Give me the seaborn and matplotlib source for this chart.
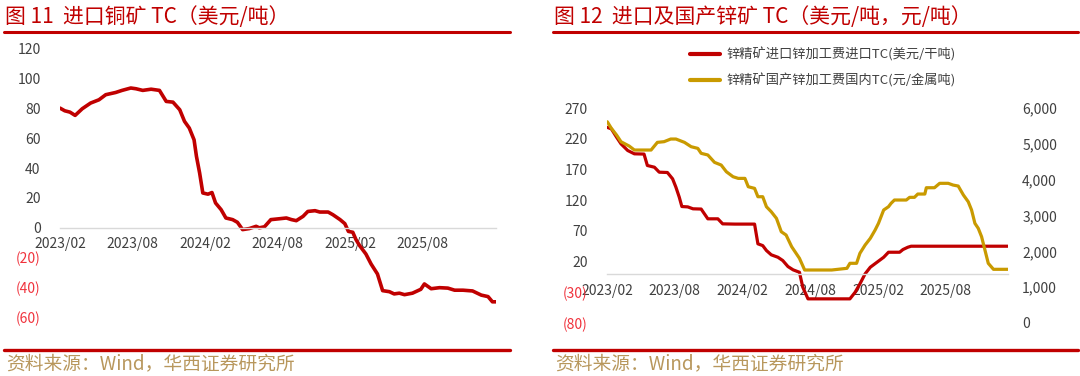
import matplotlib
matplotlib.use("Agg")
import matplotlib.pyplot as plt
import matplotlib.dates as mdates
from matplotlib.lines import Line2D
import pandas as pd
import seaborn as sns

# ---------------- data ----------------
cu_dates = ["2023-02-01","2023-02-13","2023-02-26","2023-03-11","2023-03-29","2023-04-19","2023-05-10","2023-05-27",
            "2023-06-21","2023-07-07","2023-07-29","2023-08-11","2023-08-28","2023-09-18","2023-10-09","2023-10-26",
            "2023-11-12","2023-11-29","2023-12-11","2023-12-23","2024-01-04","2024-01-10","2024-01-18","2024-01-26",
            "2024-02-08","2024-02-18","2024-02-27","2024-03-12","2024-03-24","2024-04-10","2024-04-22","2024-05-05",
            "2024-05-22","2024-06-08","2024-06-16","2024-06-29","2024-07-15","2024-08-06","2024-08-23","2024-09-05",
            "2024-09-17","2024-10-04","2024-10-16","2024-11-03","2024-11-15","2024-12-06","2024-12-18","2025-01-05",
            "2025-01-17","2025-01-26","2025-02-06","2025-02-14","2025-02-23","2025-03-11","2025-03-24","2025-04-09",
            "2025-04-22","2025-05-09","2025-05-21","2025-06-03","2025-06-16","2025-07-06","2025-07-27","2025-08-05",
            "2025-08-22","2025-09-12","2025-10-03","2025-10-20","2025-11-10","2025-12-04","2025-12-26","2026-01-12",
            "2026-01-23","2026-02-01"]
cu_tc = [80.3,78.5,77.6,75.4,79.9,83.7,85.9,89.3,
         90.8,92.2,93.8,93.3,92.2,93.0,92.2,84.8,
         84.3,79.2,71.4,66.9,59.0,47.9,36.7,23.3,
         22.5,23.6,16.6,12.1,6.5,5.4,3.6,-1.3,
         -0.6,0.9,-0.1,0.6,5.4,6.0,6.5,5.4,
         4.7,7.6,10.9,11.4,10.5,10.5,8.7,5.4,
         2.7,-2.5,-3.1,-8.0,-12.0,-17.7,-24.4,-31.1,
         -42.3,-43.0,-44.5,-44.0,-45.0,-44.0,-41.4,-37.8,
         -41.0,-40.3,-40.6,-42.0,-42.0,-42.5,-45.3,-46.3,
         -49.8,-49.8]

zn_imp_dates = ["2023-02-01","2023-02-12","2023-02-26","2023-03-10","2023-03-28","2023-04-15","2023-05-11","2023-05-20",
                "2023-06-08","2023-06-21","2023-07-13","2023-07-27","2023-08-05","2023-08-14","2023-08-21","2023-09-06",
                "2023-09-20","2023-10-12","2023-10-30","2023-11-26","2023-12-09","2024-01-11","2024-03-04","2024-03-13",
                "2024-03-26","2024-04-05","2024-04-18","2024-05-06","2024-05-19","2024-06-02","2024-06-16","2024-07-03",
                "2024-07-12","2024-07-26","2024-09-18","2024-11-16","2024-11-30","2024-12-13","2024-12-27","2025-01-10",
                "2025-01-28","2025-02-15","2025-02-28","2025-03-30","2025-04-08","2025-04-21","2025-04-30","2026-01-17"]
zn_imp_tc = [238.5,236,222.5,211.6,200.8,195.4,195,176.4,
             173.6,165.5,165,154.7,141,124.8,109.6,109,
             105.9,105.5,89.6,89.6,81.4,81,81,48.9,
             46,38,31,27,21.7,11.9,6.5,2.6,
             -21.8,-40.7,-40.7,-40.7,-30,-16.3,0,10.8,
             18.9,27,35.2,35.2,39.6,43.3,45,45]

zn_dom_dates = ["2023-02-01","2023-02-12","2023-02-26","2023-03-10","2023-04-01","2023-04-15","2023-05-30","2023-06-16",
                "2023-07-04","2023-07-22","2023-08-05","2023-08-28","2023-09-15","2023-10-03","2023-10-12","2023-10-30",
                "2023-11-17","2023-12-05","2023-12-19","2024-01-06","2024-01-20","2024-02-07","2024-02-16","2024-03-04",
                "2024-03-13","2024-03-26","2024-04-05","2024-04-18","2024-05-02","2024-05-15","2024-05-28","2024-06-12",
                "2024-07-03","2024-07-17","2024-09-28","2024-11-08","2024-11-16","2024-12-04","2024-12-13","2024-12-27",
                "2025-01-10","2025-01-23","2025-02-01","2025-02-15","2025-02-28","2025-03-07","2025-03-16","2025-04-17",
                "2025-04-26","2025-05-09","2025-05-18","2025-06-06","2025-06-10","2025-07-02","2025-07-16","2025-08-08",
                "2025-08-21","2025-09-04","2025-09-18","2025-10-01","2025-10-10","2025-10-19","2025-10-28","2025-11-06",
                "2025-11-24","2025-12-08","2026-01-17"]
zn_dom_tc = [5616,5432,5245,5058,4938,4827,4827,5041,
             5060,5134,5134,5041,4920,4873,4735,4689,
             4483,4408,4221,4082,4036,4036,3803,3757,
             3524,3524,3245,3105,2920,2547,2455,2129,
             1805,1479,1479,1526,1666,1666,1945,2176,
             2363,2595,2781,3153,3245,3340,3432,3432,
             3507,3507,3599,3599,3775,3775,3898,3898,
             3850,3822,3571,3384,3153,2781,2642,2408,
             1666,1498,1498]

x_ticks = ["2023-02-01","2023-08-01","2024-02-01","2024-08-01","2025-02-01","2025-08-01"]
cu_yticks = [-60,-40,-20,0,20,40,60,80,100,120]
zn_left_ticks = [-80,-30,20,70,120,170,220,270]
zn_right_ticks = [0,1000,2000,3000,4000,5000,6000]

title_left = "图 11  进口铜矿 TC（美元/吨）"
title_right = "图 12  进口及国产锌矿 TC（美元/吨，元/吨）"
source_text = "资料来源：Wind，华西证券研究所"
legend_labels = ["锌精矿进口锌加工费进口TC(美元/干吨)", "锌精矿国产锌加工费国内TC(元/金属吨)"]

# ---------------- style ----------------
sns.set_theme(style="white")
plt.rcParams["font.family"] = ["Noto Sans CJK SC", "DejaVu Sans"]

RED = "#C00000"
GOLD = "#C99A00"
NEG = "#F0323C"
TXT = "#404040"
AXC = "#D9D9D9"
SRC = "#B8975C"

W, H = 1080, 376
fig = plt.figure(figsize=(W / 100, H / 100), dpi=100)


def rect(x0, y_top, x1, y_bot):
    return [x0 / W, 1 - y_bot / H, (x1 - x0) / W, (y_bot - y_top) / H]


def fmt_num(v, thousands=False):
    if v < 0:
        return f"({abs(int(v))})"
    return f"{int(v):,}" if thousands else f"{int(v)}"


def style_xaxis(ax):
    ax.spines["bottom"].set_position(("data", 0))
    ax.spines["bottom"].set_color(AXC)
    ax.spines["bottom"].set_linewidth(1.0)
    for s in ["top", "left", "right"]:
        ax.spines[s].set_visible(False)
    ax.set_xticks(pd.to_datetime(x_ticks))
    ax.xaxis.set_major_formatter(mdates.DateFormatter("%Y/%m"))
    ax.tick_params(axis="x", which="major", direction="out", length=4, width=1, color=AXC,
                   labelsize=10, labelcolor=TXT, pad=3)
    ax.set_xlabel("")
    ax.set_ylabel("")


# ---------------- left panel: copper ----------------
ax1 = fig.add_axes(rect(60, 49, 496, 317))
cu_df = pd.DataFrame({"date": pd.to_datetime(cu_dates), "tc": cu_tc})
sns.lineplot(data=cu_df, x="date", y="tc", ax=ax1, color=RED, linewidth=2.6)
ax1.set_xlim(pd.Timestamp("2023-02-01"), pd.Timestamp("2026-02-01"))
ax1.set_ylim(-60, 120)
style_xaxis(ax1)
ax1.set_yticks(cu_yticks)
ax1.set_yticklabels([fmt_num(v) for v in cu_yticks])
for lab, v in zip(ax1.get_yticklabels(), cu_yticks):
    lab.set_color(NEG if v < 0 else TXT)
ax1.tick_params(axis="y", length=0, labelsize=10, pad=14)

# ---------------- right panel: zinc ----------------
ax2 = fig.add_axes(rect(607.3, 108, 1008.3, 323))
ax2r = ax2.twinx()
imp_df = pd.DataFrame({"date": pd.to_datetime(zn_imp_dates), "tc": zn_imp_tc})
dom_df = pd.DataFrame({"date": pd.to_datetime(zn_dom_dates), "tc": zn_dom_tc})
sns.lineplot(data=imp_df, x="date", y="tc", ax=ax2, color=RED, linewidth=2.3)
sns.lineplot(data=dom_df, x="date", y="tc", ax=ax2r, color=GOLD, linewidth=2.3)
for a in (ax2, ax2r):
    a.set_xlim(pd.Timestamp("2023-02-01"), pd.Timestamp("2026-01-17"))
ax2.set_ylim(-80, 270)
ax2r.set_ylim(0, 6000)
style_xaxis(ax2)
ax2.set_yticks(zn_left_ticks)
ax2.set_yticklabels([fmt_num(v) for v in zn_left_ticks])
for lab, v in zip(ax2.get_yticklabels(), zn_left_ticks):
    lab.set_color(NEG if v < 0 else TXT)
ax2.tick_params(axis="y", length=0, labelsize=10, pad=14)
for s in ["top", "left", "right", "bottom"]:
    ax2r.spines[s].set_visible(False)
ax2r.set_yticks(zn_right_ticks)
ax2r.set_yticklabels([fmt_num(v, True) for v in zn_right_ticks])
ax2r.tick_params(axis="y", length=0, labelsize=10, labelcolor=TXT, pad=10)
ax2r.set_ylabel("")
ax2r.grid(False)
ax2.grid(False)

handles = [Line2D([0], [0], color=RED, linewidth=3), Line2D([0], [0], color=GOLD, linewidth=3)]
fig.legend(handles, legend_labels, loc="upper left", bbox_to_anchor=(690 / W, 1 - 47 / H),
           frameon=False, fontsize=9.5, handlelength=2.3, handletextpad=0.5, labelspacing=0.95,
           borderpad=0, borderaxespad=0, labelcolor=TXT)

# ---------------- titles, rules, sources ----------------
for x0, x1, title in [(4, 510, title_left), (553, 1078, title_right)]:
    fig.text((x0 + 1) / W, 1 - 17 / H, title, color=RED, fontsize=15, va="center", ha="left")
    fig.add_artist(Line2D([x0 / W, x1 / W], [1 - 32 / H, 1 - 32 / H], color=RED, linewidth=2.2))
    fig.add_artist(Line2D([x0 / W, x1 / W], [1 - 350 / H, 1 - 350 / H], color=RED, linewidth=2.4))
    fig.text((x0 + 2) / W, 1 - 364 / H, source_text, color=SRC, fontsize=13.5, va="center", ha="left")

fig.savefig("out.png", dpi=100)
